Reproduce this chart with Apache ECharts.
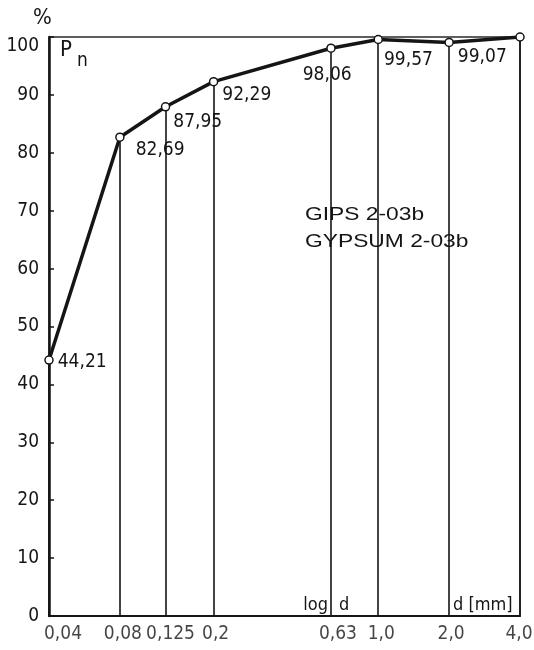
<!DOCTYPE html>
<html>
<head>
<meta charset="utf-8">
<script src="https://cdn.jsdelivr.net/npm/echarts@6/dist/echarts.min.js"></script>
<style>
  html, body { margin: 0; padding: 0; background: #fff; }
  #chart { width: 534px; height: 650px; }
</style>
</head>
<body>
<div id="chart"></div>
<script>
// Sieve fractions: grain size d [mm] (log scale) and cumulative passing Pn [%]
const sizes = [0.04, 0.08, 0.125, 0.2, 0.63, 1.0, 2.0, 4.0];
const passing = [44.21, 82.69, 87.95, 92.29, 98.06, 99.57, 99.07, 100];
const sizeLabels = ['0,04', '0,08', '0,125', '0,2', '0,63', '1,0', '2,0', '4,0'];
const yTickValues = [0, 10, 20, 30, 40, 50, 60, 70, 80, 90, 100];
const sampleNames = ['GIPS 2-03b', 'GYPSUM 2-03b'];

const NUM_FONT = "'DejaVu Sans Condensed', 'DejaVu Sans', sans-serif";
const INK = '#151515';

// label nudges (pixels) for the value labels and the size labels
const valueLabelNudge = [[4, 2], [11, 13], [3, 15], [4, 13], [-33, 27], [1, 21], [4, 15], null];
const sizeLabelNudge = [14, 3, 5, 2, 7, 3, 2, -1];

const fmt = v => v.toFixed(2).replace('.', ',');

const curveData = sizes.map((s, i) => {
  const item = { value: [s, passing[i]] };
  const nudge = valueLabelNudge[i];
  item.label = nudge
    ? { show: true, offset: nudge }
    : { show: false };
  return item;
});

const dropLines = sizes.map((s, i) => [
  { coord: [s, passing[i]] },
  { coord: [s, 0] }
]);

const sizeTickData = sizes.map((s, i) => ({
  value: [s, 0],
  label: { offset: [sizeLabelNudge[i], 0] }
}));

const chart = echarts.init(document.getElementById('chart'), null, { renderer: 'canvas' });

chart.setOption({
  animation: false,
  backgroundColor: '#fff',
  grid: {
    left: 49, right: 14, top: 37, bottom: 34,
    show: true, borderColor: '#2a2a2a', borderWidth: 1.5,
    backgroundColor: 'transparent'
  },
  xAxis: {
    type: 'log', logBase: 10, min: sizes[0], max: sizes[sizes.length - 1],
    axisLine: { show: true, onZero: false, lineStyle: { color: INK, width: 2 } },
    axisTick: { show: false },
    axisLabel: { show: false },
    splitLine: { show: false },
    minorTick: { show: false },
    minorSplitLine: { show: false }
  },
  yAxis: {
    type: 'value', min: yTickValues[0], max: yTickValues[yTickValues.length - 1], interval: 10,
    axisLine: { show: true, lineStyle: { color: INK, width: 2.5 } },
    axisTick: { show: true, inside: true, length: 5, lineStyle: { color: INK, width: 1.5 } },
    splitLine: { show: false },
    axisLabel: {
      margin: 10,
      color: INK,
      fontFamily: NUM_FONT,
      fontSize: 19,
      formatter: v => (v === 100 ? '{top|100}' : String(v)),
      rich: {
        top: { fontFamily: NUM_FONT, fontSize: 19, color: INK, padding: [18, 0, 0, 0] }
      }
    }
  },
  series: [
    {
      // vertical lines from each point down to the axis
      type: 'line',
      data: [],
      z: 1,
      silent: true,
      markLine: {
        silent: true,
        symbol: ['none', 'none'],
        label: { show: false },
        lineStyle: { color: INK, width: 1.6, type: 'solid' },
        emphasis: { disabled: true },
        data: dropLines
      }
    },
    {
      // size labels under the horizontal axis
      type: 'scatter',
      data: sizeTickData,
      symbolSize: 0,
      silent: true,
      z: 2,
      label: {
        show: true,
        position: 'bottom',
        distance: 9,
        color: INK,
        fontFamily: NUM_FONT,
        fontSize: 19,
        formatter: p => sizeLabels[p.dataIndex]
      }
    },
    {
      // grading curve
      type: 'line',
      data: curveData,
      z: 5,
      symbol: 'circle',
      symbolSize: 8,
      showAllSymbol: true,
      lineStyle: { color: INK, width: 3.5 },
      itemStyle: { color: '#fff', borderColor: INK, borderWidth: 1.5 },
      label: {
        position: 'right',
        distance: 0,
        color: INK,
        fontFamily: NUM_FONT,
        fontSize: 19,
        formatter: p => fmt(p.value[1])
      },
      emphasis: { disabled: true }
    }
  ],
  graphic: [
    { type: 'text', x: 33, y: 18, style: { text: '%', fontFamily: NUM_FONT, fontSize: 22, fill: INK, verticalAlign: 'middle' } },
    { type: 'text', x: 60, y: 50, style: { text: 'P', fontFamily: NUM_FONT, fontSize: 22, fill: INK, verticalAlign: 'middle' } },
    { type: 'text', x: 77, y: 61, style: { text: 'n', fontFamily: NUM_FONT, fontSize: 19, fill: INK, verticalAlign: 'middle' } },
    { type: 'text', x: 305, y: 215, scaleX: 1.2, style: { text: sampleNames[0], fontFamily: "'Liberation Sans', Arial, sans-serif", fontSize: 19, fill: INK, verticalAlign: 'middle' } },
    { type: 'text', x: 305, y: 242, scaleX: 1.2, style: { text: sampleNames[1], fontFamily: "'Liberation Sans', Arial, sans-serif", fontSize: 19, fill: INK, verticalAlign: 'middle' } },
    { type: 'text', x: 328, y: 605, style: { text: 'log', fontFamily: NUM_FONT, fontSize: 18, fill: INK, align: 'right', verticalAlign: 'middle' } },
    { type: 'text', x: 339, y: 605, style: { text: 'd', fontFamily: NUM_FONT, fontSize: 18, fill: INK, verticalAlign: 'middle' } },
    { type: 'text', x: 453, y: 605, style: { text: 'd [mm]', fontFamily: NUM_FONT, fontSize: 18, fill: INK, verticalAlign: 'middle' } }
  ]
});
</script>
</body>
</html>
